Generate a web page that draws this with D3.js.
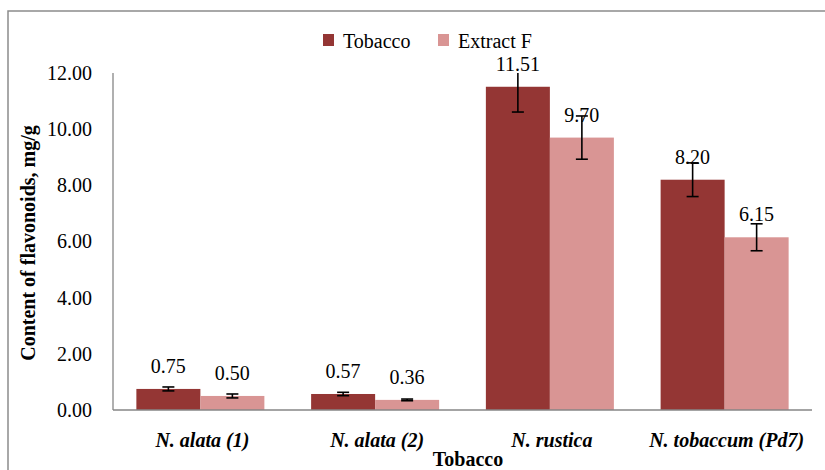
<!DOCTYPE html>
<html>
<head>
<meta charset="utf-8">
<script src="https://cdn.jsdelivr.net/npm/d3@7"></script>
</head>
<body style="margin:0;background:#fff">
<svg id="chart" width="825" height="470" font-family="Liberation Serif"></svg>
<script>
const categories = ["N. alata (1)", "N. alata (2)", "N. rustica", "N. tobaccum (Pd7)"];
const seriesNames = ["Tobacco", "Extract F"];
const tobaccoValues = [0.75, 0.57, 11.51, 8.20];
const extractValues = [0.50, 0.36, 9.70, 6.15];
const tobaccoErrors = [0.07, 0.06, 0.90, 0.60];
const extractErrors = [0.07, 0.03, 0.77, 0.48];
const yTicks = [0, 2, 4, 6, 8, 10, 12];
const colors = ["#943634", "#D99594"];

(function () {
const FONT = "Liberation Serif";
const svg = d3.select("#chart");
const W = 825, H = 470;

svg.append("path")
  .attr("d", `M8,${H + 5} L8,11 L${W + 5},11`)
  .attr("fill", "none").attr("stroke", "#8c8c8c").attr("stroke-width", 1.5);

const pLeft = 113, pRight = 812, pTop = 73, pBottom = 410;

const x = d3.scaleBand().domain(categories).range([pLeft, pRight])
  .paddingInner(0.2675).paddingOuter(0.13375);
const xs = d3.scaleBand().domain(seriesNames).range([0, x.bandwidth()]).padding(0);
const y = d3.scaleLinear().domain([0, 12]).range([pBottom, pTop]);

const data = categories.map((c, i) => ({
  cat: c,
  vals: [
    { s: seriesNames[0], v: tobaccoValues[i], e: tobaccoErrors[i], c: colors[0] },
    { s: seriesNames[1], v: extractValues[i], e: extractErrors[i], c: colors[1] }
  ]
}));

const yAxis = d3.axisLeft(y).tickValues(yTicks).tickFormat(d3.format(".2f")).tickSize(0).tickPadding(21);
const gy = svg.append("g").attr("transform", `translate(${pLeft},0)`).call(yAxis);
gy.attr("font-family", FONT).attr("font-size", 20);
gy.select(".domain").remove();
gy.selectAll("text").attr("fill", "#000").attr("font-family", FONT).attr("font-size", 20);

svg.append("clipPath").attr("id", "plotclip")
  .append("rect").attr("x", pLeft).attr("y", pTop).attr("width", pRight - pLeft).attr("height", pBottom - pTop);

const groups = svg.append("g").selectAll("g").data(data).join("g")
  .attr("transform", d => `translate(${x(d.cat)},0)`);

groups.selectAll("rect").data(d => d.vals).join("rect")
  .attr("x", d => xs(d.s))
  .attr("y", d => y(d.v))
  .attr("width", xs.bandwidth())
  .attr("height", d => y(0) - y(d.v))
  .attr("fill", d => d.c);

svg.append("line").attr("x1", pLeft).attr("x2", pLeft).attr("y1", pTop).attr("y2", pBottom)
  .attr("stroke", "#868686").attr("stroke-width", 1.3);
svg.append("line").attr("x1", pLeft).attr("x2", pRight).attr("y1", pBottom).attr("y2", pBottom)
  .attr("stroke", "#868686").attr("stroke-width", 1.3);

groups.selectAll("text.lbl").data(d => d.vals).join("text")
  .attr("class", "lbl")
  .attr("x", d => xs(d.s) + xs.bandwidth() / 2)
  .attr("y", d => y(d.v) - 16)
  .attr("text-anchor", "middle")
  .attr("font-family", FONT)
  .attr("font-size", 20)
  .text(d => d3.format(".2f")(d.v));

const eb = svg.append("g").attr("clip-path", "url(#plotclip)");
data.forEach(d => {
  d.vals.forEach(v => {
    const cx = x(d.cat) + xs(v.s) + xs.bandwidth() / 2;
    const g = eb.append("g").attr("stroke", "#000").attr("stroke-width", 1.6);
    g.append("line").attr("x1", cx).attr("x2", cx).attr("y1", y(v.v + v.e)).attr("y2", y(v.v - v.e));
    g.append("line").attr("x1", cx - 6).attr("x2", cx + 6).attr("y1", y(v.v + v.e)).attr("y2", y(v.v + v.e));
    g.append("line").attr("x1", cx - 6).attr("x2", cx + 6).attr("y1", y(v.v - v.e)).attr("y2", y(v.v - v.e));
  });
});

svg.append("g").selectAll("text").data(categories).join("text")
  .attr("x", d => x(d) + x.bandwidth() / 2 + 2)
  .attr("y", 447)
  .attr("text-anchor", "middle")
  .attr("font-family", FONT)
  .attr("font-size", 20)
  .attr("font-weight", "bold")
  .attr("font-style", "italic")
  .text(d => d);

svg.append("text").attr("x", 468).attr("y", 466)
  .attr("text-anchor", "middle").attr("font-family", FONT).attr("font-size", 20).attr("font-weight", "bold")
  .text("Tobacco");

svg.append("text")
  .attr("transform", `translate(35,243) rotate(-90)`)
  .attr("text-anchor", "middle").attr("font-family", FONT).attr("font-size", 20).attr("font-weight", "bold")
  .text("Content of flavonoids, mg/g");

const legend = svg.append("g");
const legendItems = [
  { name: seriesNames[0], c: colors[0], x: 323 },
  { name: seriesNames[1], c: colors[1], x: 438 }
];
legendItems.forEach(it => {
  legend.append("rect").attr("x", it.x).attr("y", 34).attr("width", 11).attr("height", 12).attr("fill", it.c);
  legend.append("text").attr("x", it.x + 20).attr("y", 48).attr("font-family", FONT).attr("font-size", 20).text(it.name);
});
})();
</script>
</body>
</html>
